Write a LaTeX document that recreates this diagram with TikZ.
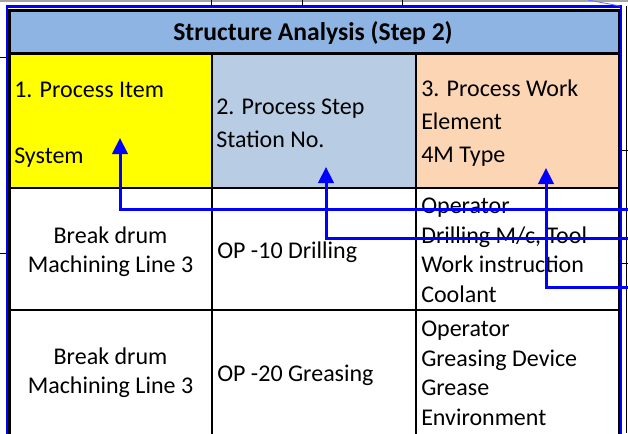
\documentclass[tikz,border=0pt]{standalone}
\usepackage{fontspec}
\setmainfont{Carlito}
\usepackage{xcolor}
\definecolor{TitleBlue}{RGB}{141,180,226}
\definecolor{StepBlue}{RGB}{184,204,228}
\definecolor{ItemYellow}{RGB}{255,255,0}
\definecolor{WorkPeach}{RGB}{252,213,180}
\definecolor{FrameBlue}{RGB}{0,0,255}
\definecolor{GridGray}{RGB}{165,165,165}
\usetikzlibrary{arrows.meta, positioning, calc}
\tikzset{
  % Table rules
  rule/.style={black, line width=1.5pt},
  rule thick/.style={black, line width=2.25pt},
  gridline/.style={black, line width=0.6pt},
  % Cell texts (placed by the baseline of their last line)
  headtxt/.style={anchor=base west, inner sep=0pt, align=left,
    font=\fontsize{18}{24.75}\selectfont},
  bodytxt/.style={anchor=base west, inner sep=0pt, align=left,
    font=\fontsize{18}{22.1}\selectfont},
  linetxt/.style={anchor=base, inner sep=0pt, align=center,
    font=\fontsize{18}{21.5}\selectfont},
  titletxt/.style={anchor=base, inner sep=0pt,
    font=\fontsize{19.2}{21}\selectfont\bfseries},
  % Blue pointers
  link/.style={FrameBlue, line width=2.25pt,
    -{Triangle[length=12pt,width=11.5pt]}},
}

\begin{document}
\begin{tikzpicture}[x=0.75pt, y=-0.75pt]
  \useasboundingbox (0,0) rectangle (628,433);
  \clip (0,0) rectangle (628,433);

  %% Sheet grid around the table
  \draw[GridGray, line width=0.9pt] (0,1) -- (628,1);
  \foreach \gx in {211,302,402} \draw[gridline] (\gx,0) -- (\gx,6);
  \draw[gridline] (626,6) -- (626,433);
  \foreach \gy in {150,263} \draw[gridline] (621,\gy) -- (628,\gy);
  \foreach \gy in {57,253} \draw[gridline] (0,\gy) -- (7,\gy);

  %% Cell fills
  \fill[TitleBlue]  (9,10)   rectangle (619,53);
  \fill[ItemYellow] (9,53)   rectangle (212,188);
  \fill[StepBlue]   (212,53) rectangle (416,188);
  \fill[WorkPeach]  (416,53) rectangle (619,188);

  %% Table rules
  \draw[rule] (212,53) -- (212,440);
  \draw[rule] (416,53) -- (416,440);
  \draw[rule] (9,188) -- (619,188);
  \draw[rule] (9,310) -- (619,310);
  \draw[rule thick] (9,53) -- (619,53);
  \draw[rule thick] (9,440) -- (9,10) -- (619,10) -- (619,440);

  %% Title row
  \node[titletxt] (title) at (313,40) {Structure Analysis (Step 2)};

  %% Header row
  \node[headtxt] (item) at (14,163)  {1. Process Item\\\mbox{}\\System};
  \node[headtxt] (step) at (216,147) {2. Process Step\\Station No.};
  \node[headtxt] (work) at (421,162) {3. Process Work\\Element\\4M Type};

  %% OP-10 row
  \node[linetxt] (line10) at (110.5,272) {Break drum\\Machining Line 3};
  \node[bodytxt] (op10)   at (217,258)   {OP -10 Drilling};
  \node[bodytxt] (we10)   at (421,302)   {Operator\\Drilling M/c, Tool\\Work instruction\\Coolant};

  %% OP-20 row
  \node[linetxt] (line20) at (110.5,393) {Break drum\\Machining Line 3};
  \node[bodytxt] (op20)   at (217,381)   {OP -20 Greasing};
  \node[bodytxt] (we20)   at (421,425)   {Operator\\Greasing Device\\Grease\\Environment};

  %% Blue frame
  \draw[FrameBlue, line width=1.6pt] (7,440) -- (7,6.5) -- (621,6.5) -- (621,440);
  \draw[FrameBlue!60, line width=0.6pt] (588,0) -- (620,6);

  %% Pointers into the header cells
  \coordinate (in1) at (640,209);  \coordinate (tip1) at (120,138);
  \coordinate (in2) at (640,238);  \coordinate (tip2) at (326,167);
  \coordinate (in3) at (640,287);  \coordinate (tip3) at (546,168);
  \draw[link] (in1) -| (tip1);
  \draw[link] (in2) -| (tip2);
  \draw[link] (in3) -| (tip3);

\end{tikzpicture}
\end{document}
